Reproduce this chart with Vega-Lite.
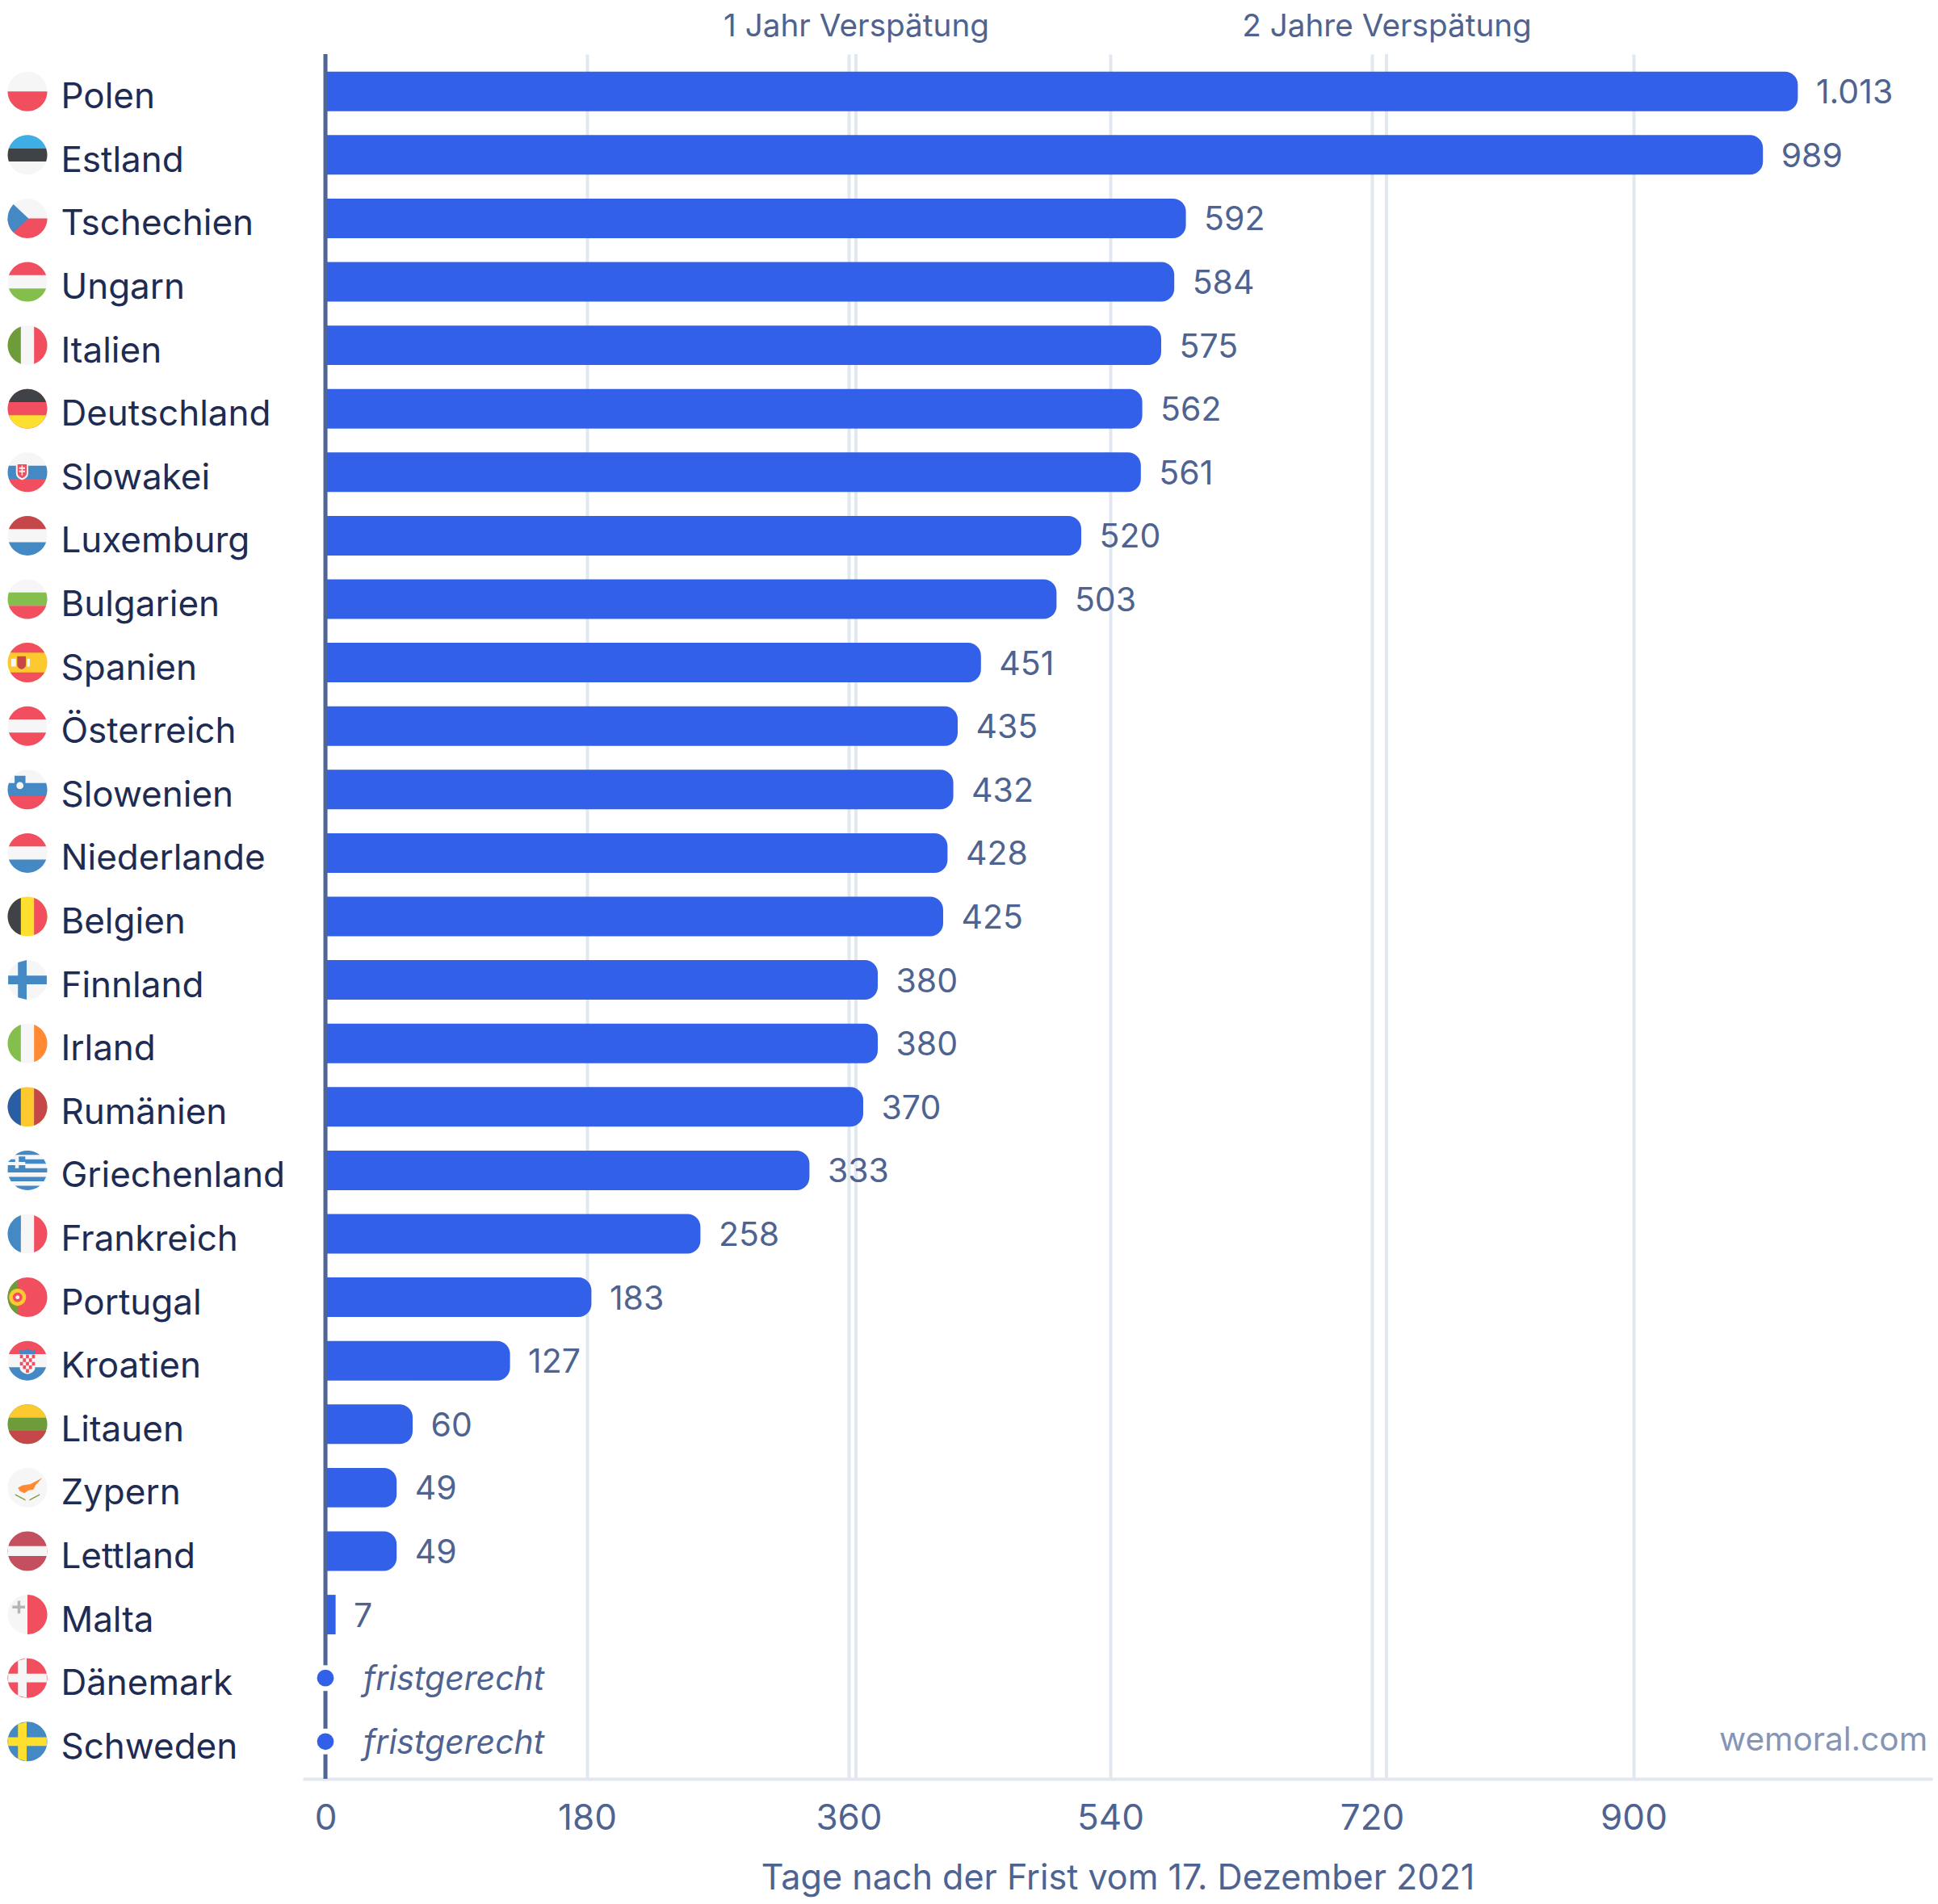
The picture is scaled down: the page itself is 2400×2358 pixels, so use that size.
{
  "$schema": "https://vega.github.io/schema/vega-lite/v6.json",
  "description": "Tage nach der Frist vom 17. Dezember 2021 je EU-Land",
  "width": 2018,
  "height": 2136,
  "autosize": {"type": "none"},
  "padding": {"left": 375, "top": 67, "right": 7, "bottom": 155},
  "background": "white",
  "config": {
    "font": "Inter",
    "view": {"stroke": null}
  },
  "datasets": {
    "laender": [
      {"land": "Polen", "tage": 1013, "text": "1.013", "status": "spaet"},
      {"land": "Estland", "tage": 989, "text": "989", "status": "spaet"},
      {"land": "Tschechien", "tage": 592, "text": "592", "status": "spaet"},
      {"land": "Ungarn", "tage": 584, "text": "584", "status": "spaet"},
      {"land": "Italien", "tage": 575, "text": "575", "status": "spaet"},
      {"land": "Deutschland", "tage": 562, "text": "562", "status": "spaet"},
      {"land": "Slowakei", "tage": 561, "text": "561", "status": "spaet"},
      {"land": "Luxemburg", "tage": 520, "text": "520", "status": "spaet"},
      {"land": "Bulgarien", "tage": 503, "text": "503", "status": "spaet"},
      {"land": "Spanien", "tage": 451, "text": "451", "status": "spaet"},
      {"land": "Österreich", "tage": 435, "text": "435", "status": "spaet"},
      {"land": "Slowenien", "tage": 432, "text": "432", "status": "spaet"},
      {"land": "Niederlande", "tage": 428, "text": "428", "status": "spaet"},
      {"land": "Belgien", "tage": 425, "text": "425", "status": "spaet"},
      {"land": "Finnland", "tage": 380, "text": "380", "status": "spaet"},
      {"land": "Irland", "tage": 380, "text": "380", "status": "spaet"},
      {"land": "Rumänien", "tage": 370, "text": "370", "status": "spaet"},
      {"land": "Griechenland", "tage": 333, "text": "333", "status": "spaet"},
      {"land": "Frankreich", "tage": 258, "text": "258", "status": "spaet"},
      {"land": "Portugal", "tage": 183, "text": "183", "status": "spaet"},
      {"land": "Kroatien", "tage": 127, "text": "127", "status": "spaet"},
      {"land": "Litauen", "tage": 60, "text": "60", "status": "spaet"},
      {"land": "Zypern", "tage": 49, "text": "49", "status": "spaet"},
      {"land": "Lettland", "tage": 49, "text": "49", "status": "spaet"},
      {"land": "Malta", "tage": 7, "text": "7", "status": "spaet"},
      {"land": "Dänemark", "tage": 0, "text": "fristgerecht", "status": "fristgerecht"},
      {"land": "Schweden", "tage": 0, "text": "fristgerecht", "status": "fristgerecht"}
    ],
    "flaggen": [
      {"land": "Polen", "teil": "voll", "farbe": "weiss"},
      {"land": "Polen", "teil": "unten", "farbe": "rot"},
      {"land": "Estland", "teil": "voll", "farbe": "weiss"},
      {"land": "Estland", "teil": "hOben", "farbe": "hellblau"},
      {"land": "Estland", "teil": "hMitte", "farbe": "dunkel"},
      {"land": "Tschechien", "teil": "voll", "farbe": "weiss"},
      {"land": "Tschechien", "teil": "unten", "farbe": "rot"},
      {"land": "Tschechien", "teil": "keil", "farbe": "blau"},
      {"land": "Ungarn", "teil": "voll", "farbe": "weiss"},
      {"land": "Ungarn", "teil": "hOben", "farbe": "rot"},
      {"land": "Ungarn", "teil": "hUnten", "farbe": "hellgruen"},
      {"land": "Italien", "teil": "voll", "farbe": "weiss"},
      {"land": "Italien", "teil": "vLinks", "farbe": "gruen"},
      {"land": "Italien", "teil": "vRechts", "farbe": "rot"},
      {"land": "Deutschland", "teil": "voll", "farbe": "rot"},
      {"land": "Deutschland", "teil": "hOben", "farbe": "dunkel"},
      {"land": "Deutschland", "teil": "hUnten", "farbe": "gelb"},
      {"land": "Slowakei", "teil": "voll", "farbe": "weiss"},
      {"land": "Slowakei", "teil": "hMitte", "farbe": "blau"},
      {"land": "Slowakei", "teil": "hUnten", "farbe": "rot"},
      {"land": "Slowakei", "teil": "skSchild", "farbe": "weiss"},
      {"land": "Slowakei", "teil": "skInnen", "farbe": "rot"},
      {"land": "Slowakei", "teil": "skKreuz", "farbe": "weiss"},
      {"land": "Luxemburg", "teil": "voll", "farbe": "weiss"},
      {"land": "Luxemburg", "teil": "hOben", "farbe": "rotdunkel"},
      {"land": "Luxemburg", "teil": "hUnten", "farbe": "blau"},
      {"land": "Bulgarien", "teil": "voll", "farbe": "weiss"},
      {"land": "Bulgarien", "teil": "hMitte", "farbe": "hellgruen"},
      {"land": "Bulgarien", "teil": "hUnten", "farbe": "rot"},
      {"land": "Spanien", "teil": "voll", "farbe": "gold"},
      {"land": "Spanien", "teil": "esOben", "farbe": "rot"},
      {"land": "Spanien", "teil": "esUnten", "farbe": "rot"},
      {"land": "Spanien", "teil": "esSaeulen", "farbe": "weiss"},
      {"land": "Spanien", "teil": "esWappen", "farbe": "rotdunkel"},
      {"land": "Österreich", "teil": "voll", "farbe": "weiss"},
      {"land": "Österreich", "teil": "hOben", "farbe": "rot"},
      {"land": "Österreich", "teil": "hUnten", "farbe": "rot"},
      {"land": "Slowenien", "teil": "voll", "farbe": "weiss"},
      {"land": "Slowenien", "teil": "hMitte", "farbe": "blau"},
      {"land": "Slowenien", "teil": "hUnten", "farbe": "rot"},
      {"land": "Slowenien", "teil": "siSchild", "farbe": "blau"},
      {"land": "Slowenien", "teil": "siInnen", "farbe": "weiss"},
      {"land": "Niederlande", "teil": "voll", "farbe": "weiss"},
      {"land": "Niederlande", "teil": "hOben", "farbe": "rot"},
      {"land": "Niederlande", "teil": "hUnten", "farbe": "blau"},
      {"land": "Belgien", "teil": "voll", "farbe": "gelb"},
      {"land": "Belgien", "teil": "vLinks", "farbe": "dunkel"},
      {"land": "Belgien", "teil": "vRechts", "farbe": "rot"},
      {"land": "Finnland", "teil": "voll", "farbe": "weiss"},
      {"land": "Finnland", "teil": "kreuz", "farbe": "blau"},
      {"land": "Irland", "teil": "voll", "farbe": "weiss"},
      {"land": "Irland", "teil": "vLinks", "farbe": "hellgruen"},
      {"land": "Irland", "teil": "vRechts", "farbe": "orange"},
      {"land": "Rumänien", "teil": "voll", "farbe": "gold"},
      {"land": "Rumänien", "teil": "vLinks", "farbe": "blaudunkel"},
      {"land": "Rumänien", "teil": "vRechts", "farbe": "rotdunkel"},
      {"land": "Griechenland", "teil": "voll", "farbe": "weiss"},
      {"land": "Griechenland", "teil": "grStreifen", "farbe": "blau"},
      {"land": "Frankreich", "teil": "voll", "farbe": "weiss"},
      {"land": "Frankreich", "teil": "vLinks", "farbe": "blau"},
      {"land": "Frankreich", "teil": "vRechts", "farbe": "rot"},
      {"land": "Portugal", "teil": "voll", "farbe": "rot"},
      {"land": "Portugal", "teil": "ptLinks", "farbe": "gruen"},
      {"land": "Portugal", "teil": "ptRing", "farbe": "gold"},
      {"land": "Portugal", "teil": "ptKern", "farbe": "rot"},
      {"land": "Portugal", "teil": "ptMitte", "farbe": "weiss"},
      {"land": "Kroatien", "teil": "voll", "farbe": "weiss"},
      {"land": "Kroatien", "teil": "hOben", "farbe": "rot"},
      {"land": "Kroatien", "teil": "hUnten", "farbe": "blau"},
      {"land": "Kroatien", "teil": "hrSchild", "farbe": "weiss"},
      {"land": "Kroatien", "teil": "hrSchach", "farbe": "rot"},
      {"land": "Kroatien", "teil": "hrKrone", "farbe": "blau"},
      {"land": "Litauen", "teil": "voll", "farbe": "gruen"},
      {"land": "Litauen", "teil": "hOben", "farbe": "gold"},
      {"land": "Litauen", "teil": "hUnten", "farbe": "rotdunkel"},
      {"land": "Zypern", "teil": "voll", "farbe": "weiss"},
      {"land": "Zypern", "teil": "cyInsel", "farbe": "orange"},
      {"land": "Zypern", "teil": "cyZweig", "farbe": "gruen"},
      {"land": "Lettland", "teil": "voll", "farbe": "rotlett"},
      {"land": "Lettland", "teil": "lvBand", "farbe": "weiss"},
      {"land": "Malta", "teil": "voll", "farbe": "weiss"},
      {"land": "Malta", "teil": "halbRechts", "farbe": "rot"},
      {"land": "Malta", "teil": "mtKreuz", "farbe": "grau"},
      {"land": "Dänemark", "teil": "voll", "farbe": "rot"},
      {"land": "Dänemark", "teil": "kreuz", "farbe": "weiss"},
      {"land": "Schweden", "teil": "voll", "farbe": "blau"},
      {"land": "Schweden", "teil": "kreuz", "farbe": "gelb"}
    ]
  },
  "resolve": {"axis": {"x": "independent"}},
  "layer": [
    {
      "data": {"values": [{"tage": 365}, {"tage": 730}]},
      "mark": {"type": "rule", "color": "#e2e8f0", "strokeWidth": 4},
      "encoding": {
        "x": {
          "field": "tage",
          "type": "quantitative",
          "scale": {"domain": [-15.556, 1105.56], "nice": false, "zero": false},
          "axis": {
            "orient": "top",
            "values": [365, 730],
            "labelExpr": "datum.value == 365 ? '1 Jahr Verspätung' : '2 Jahre Verspätung'",
            "title": null,
            "domain": false,
            "ticks": false,
            "grid": false,
            "labelFont": "Inter",
            "labelFontSize": 38.7,
            "labelColor": "#4f6391",
            "labelPadding": 15,
            "labelLimit": 600,
            "labelOverlap": false,
            "labelBound": false,
            "labelFlush": false
          }
        }
      }
    },
    {
      "data": {"name": "laender"},
      "transform": [{"filter": "datum.status == 'spaet'"}],
      "mark": {
        "type": "bar",
        "color": "#3360e8",
        "cornerRadiusEnd": {"expr": "datum.tage < 10 ? 0 : 16"}
      },
      "encoding": {
        "y": {
          "field": "land",
          "type": "nominal",
          "sort": null,
          "scale": {
            "domain": ["Polen", "Estland", "Tschechien", "Ungarn", "Italien", "Deutschland", "Slowakei", "Luxemburg", "Bulgarien", "Spanien", "Österreich", "Slowenien", "Niederlande", "Belgien", "Finnland", "Irland", "Rumänien", "Griechenland", "Frankreich", "Portugal", "Kroatien", "Litauen", "Zypern", "Lettland", "Malta", "Dänemark", "Schweden"],
            "paddingInner": 0.377,
            "paddingOuter": 0.2765
          },
          "axis": null
        },
        "x": {
          "field": "tage",
          "type": "quantitative",
          "stack": null,
          "scale": {"domain": [-15.556, 1105.56], "nice": false, "zero": false},
          "axis": {
            "orient": "bottom",
            "values": [0, 180, 360, 540, 720, 900],
            "format": "d",
            "title": "Tage nach der Frist vom 17. Dezember 2021",
            "grid": true,
            "gridColor": "#e2e8f0",
            "gridWidth": 4,
            "domain": true,
            "domainColor": "#e2e8f0",
            "domainWidth": 4,
            "ticks": false,
            "labelFont": "Inter",
            "labelFontSize": 44,
            "labelColor": "#4f6391",
            "labelPadding": 27,
            "labelOverlap": false,
            "labelBound": false,
            "labelFlush": false,
            "titleFont": "Inter",
            "titleFontSize": 43.1,
            "titleFontWeight": "normal",
            "titleColor": "#4f6391",
            "titlePadding": 31
          }
        }
      }
    },
    {
      "data": {"values": [{"tage": 0}]},
      "mark": {"type": "rule", "color": "#4f6594", "strokeWidth": 5},
      "encoding": {
        "x": {"field": "tage", "type": "quantitative", "axis": null}
      }
    },
    {
      "data": {"name": "laender"},
      "transform": [{"filter": "datum.status == 'fristgerecht'"}],
      "mark": {"type": "point", "filled": true, "color": "white", "opacity": 1, "size": 1018},
      "encoding": {
        "x": {"field": "tage", "type": "quantitative", "axis": null},
        "y": {"field": "land", "type": "nominal", "sort": null, "axis": null}
      }
    },
    {
      "data": {"name": "laender"},
      "transform": [{"filter": "datum.status == 'fristgerecht'"}],
      "mark": {"type": "point", "filled": true, "color": "#3360e8", "opacity": 1, "size": 430},
      "encoding": {
        "x": {"field": "tage", "type": "quantitative", "axis": null},
        "y": {"field": "land", "type": "nominal", "sort": null, "axis": null}
      }
    },
    {
      "data": {"name": "laender"},
      "transform": [{"filter": "datum.status == 'spaet'"}],
      "mark": {"type": "text", "align": "left", "baseline": "middle", "dx": 22.5, "dy": 3, "font": "Inter", "fontSize": 41, "color": "#4f6391"},
      "encoding": {
        "x": {"field": "tage", "type": "quantitative", "axis": null},
        "y": {"field": "land", "type": "nominal", "sort": null, "axis": null},
        "text": {"field": "text", "type": "nominal"}
      }
    },
    {
      "data": {"name": "laender"},
      "transform": [{"filter": "datum.status == 'fristgerecht'"}],
      "mark": {"type": "text", "align": "left", "baseline": "middle", "dx": 47, "dy": 3, "font": "Inter", "fontSize": 41, "fontStyle": "italic", "color": "#4f6391"},
      "encoding": {
        "x": {"field": "tage", "type": "quantitative", "axis": null},
        "y": {"field": "land", "type": "nominal", "sort": null, "axis": null},
        "text": {"field": "text", "type": "nominal"}
      }
    },
    {
      "data": {"name": "laender"},
      "mark": {"type": "text", "align": "left", "baseline": "middle", "dy": 8, "font": "Inter", "fontSize": 44, "color": "#1e2b52"},
      "encoding": {
        "x": {"datum": -182, "type": "quantitative", "axis": null},
        "y": {"field": "land", "type": "nominal", "sort": null, "axis": null},
        "text": {"field": "land", "type": "nominal"}
      }
    },
    {
      "data": {"values": [{"quelle": "wemoral.com"}]},
      "mark": {"type": "text", "align": "right", "baseline": "middle", "dy": -1, "font": "Inter", "fontSize": 40.5, "color": "#8595b5"},
      "encoding": {
        "x": {"datum": 1102.3, "type": "quantitative", "axis": null},
        "y": {"datum": "Schweden", "type": "nominal", "sort": null, "axis": null},
        "text": {"field": "quelle", "type": "nominal"}
      }
    },
    {
      "data": {"name": "flaggen"},
      "mark": {"type": "point", "filled": true, "opacity": 1, "size": 2401, "strokeWidth": 0},
      "encoding": {
        "x": {"datum": -205, "type": "quantitative", "axis": null},
        "y": {"field": "land", "type": "nominal", "sort": null, "axis": null},
        "color": {
          "field": "farbe",
          "type": "nominal",
          "legend": null,
          "scale": {
            "domain": ["weiss", "rot", "rotdunkel", "rotlett", "blau", "blaudunkel", "hellblau", "dunkel", "gelb", "gold", "gruen", "hellgruen", "orange", "grau"],
            "range": ["#f6f6f6", "#f14e5f", "#c5474a", "#c4505f", "#4488c4", "#2a5ea4", "#3eaee4", "#3f4347", "#fde02f", "#fcc92e", "#6f9c3a", "#84bf4e", "#ff8a33", "#b5b5b5"]
          }
        },
        "shape": {
          "field": "teil",
          "type": "nominal",
          "legend": null,
          "scale": {
            "domain": ["voll", "unten", "hOben", "hMitte", "hUnten", "vLinks", "vRechts", "keil", "kreuz", "halbRechts", "skSchild", "skInnen", "skKreuz", "esOben", "esUnten", "esSaeulen", "esWappen", "siSchild", "siInnen", "grStreifen", "ptLinks", "ptRing", "ptKern", "ptMitte", "hrSchild", "hrSchach", "hrKrone", "cyInsel", "cyZweig", "lvBand", "mtKreuz"],
            "range": [
              "M-1,0 A1,1 0 1 1 1,0 A1,1 0 1 1 -1,0 Z",
              "M-1,0 A1,1 0 0 0 1,0 Z",
              "M-0.943,-0.333 A1,1 0 0 1 0.943,-0.333 Z",
              "M-0.943,-0.333 A1,1 0 0 0 -0.943,0.333 L0.943,0.333 A1,1 0 0 0 0.943,-0.333 Z",
              "M-0.943,0.333 A1,1 0 0 0 0.943,0.333 Z",
              "M-0.333,-0.943 A1,1 0 0 0 -0.333,0.943 Z",
              "M0.333,-0.943 A1,1 0 0 1 0.333,0.943 Z",
              "M-0.707,-0.707 L0.05,0 L-0.707,0.707 A1,1 0 0 1 -0.707,-0.707 Z",
              "M-0.48,-0.88 L-0.04,-1 L-0.04,-0.22 L0.975,-0.22 L0.975,0.22 L-0.04,0.22 L-0.04,1 L-0.48,0.88 L-0.48,0.22 L-0.975,0.22 L-0.975,-0.22 L-0.48,-0.22 Z",
              "M0,-1 A1,1 0 0 1 0,1 Z",
              "M-0.58,-0.46 L0.04,-0.46 L0.04,0.05 Q0.04,0.3 -0.27,0.4 Q-0.58,0.3 -0.58,0.05 Z",
              "M-0.5,-0.4 L-0.04,-0.4 L-0.04,0.05 Q-0.04,0.22 -0.27,0.3 Q-0.5,0.22 -0.5,0.05 Z",
              "M-0.3,-0.34 L-0.24,-0.34 L-0.24,-0.25 L-0.12,-0.25 L-0.12,-0.17 L-0.24,-0.17 L-0.24,-0.08 L-0.12,-0.08 L-0.12,0 L-0.24,0 L-0.24,0.16 L-0.3,0.16 L-0.3,0 L-0.42,0 L-0.42,-0.08 L-0.3,-0.08 L-0.3,-0.17 L-0.42,-0.17 L-0.42,-0.25 L-0.3,-0.25 Z",
              "M-0.866,-0.5 A1,1 0 0 1 0.866,-0.5 Z",
              "M-0.866,0.5 A1,1 0 0 0 0.866,0.5 Z",
              "M-0.82,-0.2 L-0.58,-0.2 L-0.58,0.2 L-0.82,0.2 Z M-0.02,-0.2 L0.12,-0.2 L0.12,0.2 L-0.02,0.2 Z",
              "M-0.52,-0.32 L-0.08,-0.32 L-0.08,0.12 Q-0.08,0.28 -0.3,0.34 Q-0.52,0.28 -0.52,0.12 Z",
              "M-0.65,-0.7 L-0.1,-0.7 L-0.1,-0.1 Q-0.2,0.08 -0.38,0.1 Q-0.55,0.08 -0.65,-0.1 Z",
              "M-0.56,-0.2 A0.18,0.18 0 1 1 -0.2,-0.2 A0.18,0.18 0 1 1 -0.56,-0.2 Z",
              "M-0.628,-0.778 A1,1 0 0 1 0.628,-0.778 Z M-0.11,-0.556 L0.831,-0.556 L0.943,-0.333 L-0.11,-0.333 Z M-0.994,-0.111 L0.994,-0.111 L0.994,0.111 L-0.994,0.111 Z M-0.943,0.333 L0.943,0.333 L0.831,0.556 L-0.831,0.556 Z M-0.628,0.778 A1,1 0 0 0 0.628,0.778 Z M-0.83,-0.556 L-0.62,-0.556 L-0.62,-0.42 L-0.99,-0.42 Z M-0.44,-0.7 L-0.11,-0.7 L-0.11,-0.42 L-0.44,-0.42 Z M-0.99,-0.26 L-0.62,-0.26 L-0.62,-0.111 L-0.994,-0.111 Z M-0.44,-0.26 L-0.11,-0.26 L-0.11,-0.111 L-0.44,-0.111 Z",
              "M-0.48,-0.877 A1,1 0 0 0 -0.48,0.877 Z",
              "M-0.93,0 A0.43,0.43 0 1 1 -0.07,0 A0.43,0.43 0 1 1 -0.93,0 Z",
              "M-0.74,0 A0.24,0.24 0 1 1 -0.26,0 A0.24,0.24 0 1 1 -0.74,0 Z",
              "M-0.6,0 A0.1,0.1 0 1 1 -0.4,0 A0.1,0.1 0 1 1 -0.6,0 Z",
              "M-0.38,-0.3 L0.38,-0.3 L0.38,0.42 Q0.3,0.62 0,0.68 Q-0.3,0.62 -0.38,0.42 Z",
              "M-0.38,-0.3 h0.152 v0.18 h-0.152 z M-0.076,-0.3 h0.152 v0.18 h-0.152 z M0.228,-0.3 h0.152 v0.18 h-0.152 z M-0.228,-0.12 h0.152 v0.18 h-0.152 z M0.076,-0.12 h0.152 v0.18 h-0.152 z M-0.38,0.06 h0.152 v0.18 h-0.152 z M-0.076,0.06 h0.152 v0.18 h-0.152 z M0.228,0.06 h0.152 v0.18 h-0.152 z M-0.228,0.24 h0.152 v0.18 h-0.152 z M0.076,0.24 h0.152 v0.18 h-0.152 z M-0.076,0.42 h0.152 v0.18 h-0.152 z",
              "M-0.42,-0.58 L-0.25,-0.5 L0,-0.6 L0.25,-0.5 L0.42,-0.58 L0.38,-0.32 L-0.38,-0.32 Z",
              "M-0.48,0 L-0.25,-0.12 L0.15,-0.18 L0.75,-0.5 L0.42,-0.14 L0.3,0.1 L0.05,0.14 L-0.15,0.28 L-0.38,0.18 Z",
              "M-0.62,0.32 L-0.1,0.6 L-0.1,0.66 L-0.62,0.38 Z M0.62,0.32 L0.1,0.6 L0.1,0.66 L0.62,0.38 Z",
              "M-1,-0.25 L1,-0.25 L1,0.25 L-1,0.25 Z",
              "M-0.5,-0.7 L-0.36,-0.7 L-0.36,-0.45 L-0.12,-0.45 L-0.12,-0.31 L-0.36,-0.31 L-0.36,-0.05 L-0.5,-0.05 L-0.5,-0.31 L-0.76,-0.31 L-0.76,-0.45 L-0.5,-0.45 Z"
            ]
          }
        }
      }
    }
  ]
}
